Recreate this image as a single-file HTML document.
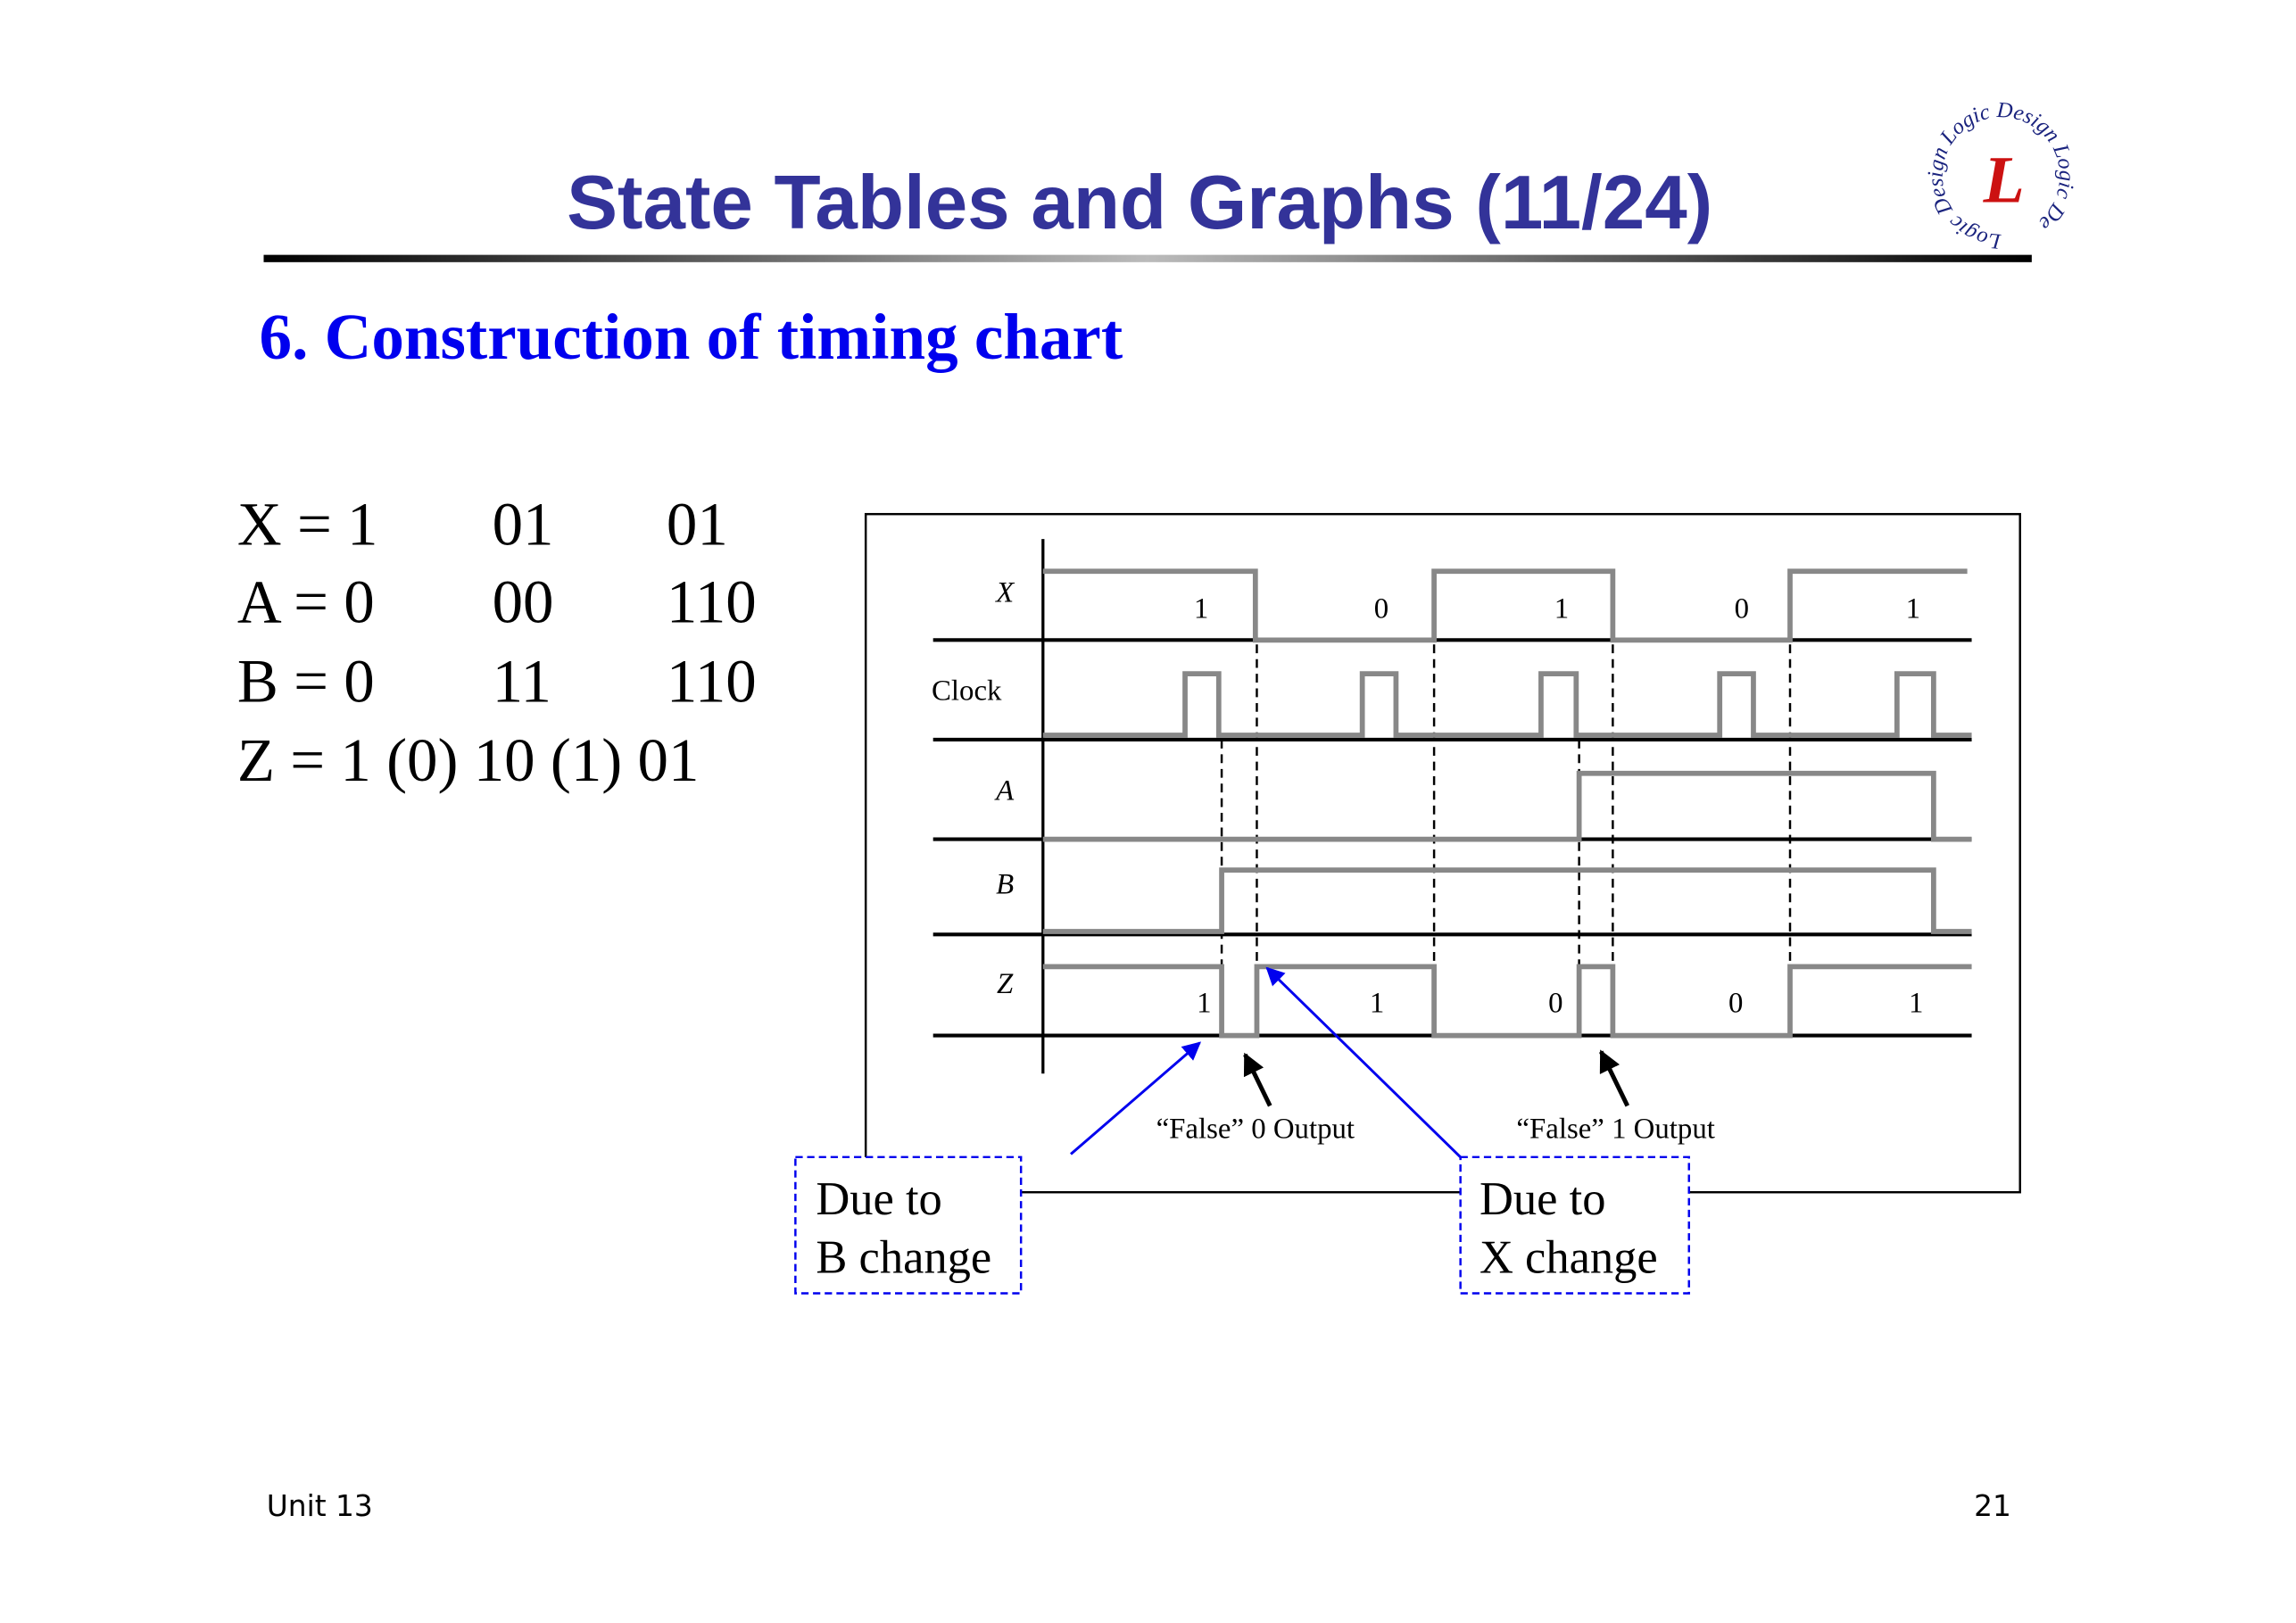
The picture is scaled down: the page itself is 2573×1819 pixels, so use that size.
<!DOCTYPE html>
<html><head><meta charset="utf-8"><style>
html,body{margin:0;padding:0;background:#fff}
svg{display:block}
</style></head><body>
<svg width="2573" height="1819" viewBox="0 0 1567.4 1108.1" preserveAspectRatio="none" xmlns="http://www.w3.org/2000/svg">
<defs>
<linearGradient id="rule" x1="0" x2="1" y1="0" y2="0">
<stop offset="0" stop-color="#000"/><stop offset="0.5" stop-color="#bbb"/><stop offset="1" stop-color="#000"/>
</linearGradient>
<marker id="ab" viewBox="0 0 10 10" refX="9" refY="5" markerWidth="7" markerHeight="7" orient="auto"><path d="M0,0L10,5L0,10z" fill="#0000ee"/></marker>
<marker id="ak" viewBox="0 0 10 10" refX="9" refY="5" markerWidth="5" markerHeight="5" orient="auto"><path d="M0,0L10,5L0,10z" fill="#000"/></marker>
<path id="circ" d="M1366,160 a40,40 0 1,1 0.1,0"/>
</defs>
<rect width="1570" height="1110" fill="#fff"/>
<text x="778" y="156" text-anchor="middle" font-family="Liberation Sans, sans-serif" font-weight="bold" font-size="52" fill="#333399">State Tables and Graphs (11/24)</text>
<rect x="180" y="174" width="1207" height="5" fill="url(#rule)"/>
<!-- logo -->
<text font-family="Liberation Serif, serif" font-style="italic" font-size="15" fill="#1a237e"><textPath href="#circ">Logic Design Logic Design Logic De</textPath></text>
<text x="1368" y="138" text-anchor="middle" font-family="Liberation Serif, serif" font-style="italic" font-weight="bold" font-size="46" fill="#cc1111">L</text>
<text x="177" y="245" font-family="Liberation Serif, serif" font-weight="bold" font-size="44.5" fill="#0000ee">6. Construction of timing chart</text>
<g font-family="Liberation Serif, serif" font-size="42" fill="#000">
<text x="162" y="372">X = 1</text><text x="336" y="372">01</text><text x="455" y="372">01</text>
<text x="162" y="425">A = 0</text><text x="336" y="425">00</text><text x="455" y="425">110</text>
<text x="162" y="479">B = 0</text><text x="336" y="479">11</text><text x="455" y="479">110</text>
<text x="162" y="533">Z = 1 (0) 10 (1) 01</text>
</g>
<rect x="591" y="351" width="788" height="463" fill="none" stroke="#000" stroke-width="1.5"/>
<line x1="712" y1="368" x2="712" y2="733" stroke="#000" stroke-width="2"/>
<g stroke="#000" stroke-width="2.5">
<line x1="637" y1="437" x2="1346" y2="437"/><line x1="637" y1="505" x2="1346" y2="505"/>
<line x1="637" y1="573" x2="1346" y2="573"/><line x1="637" y1="638" x2="1346" y2="638"/>
<line x1="637" y1="707" x2="1346" y2="707"/>
</g>
<g stroke="#000" stroke-width="1.5" stroke-dasharray="6,4">
<line x1="834" y1="505" x2="834" y2="707"/><line x1="858" y1="440" x2="858" y2="707"/>
<line x1="979" y1="440" x2="979" y2="707"/><line x1="1078" y1="505" x2="1078" y2="707"/>
<line x1="1101" y1="440" x2="1101" y2="707"/><line x1="1222" y1="440" x2="1222" y2="660"/>
</g>
<g fill="none" stroke="#888" stroke-width="3.5">
<path d="M712,390H857V437H979V390H1101V437H1222V390H1343"/>
<path d="M712,502H809V460H832V502H930V460H953V502H1052V460H1076V502H1174V460H1197V502H1295V460H1320V502H1346"/>
<path d="M712,573H1078V528H1320V573H1346"/>
<path d="M712,636H834V594H1320V636H1346"/>
<path d="M712,660H834V707H858V660H979V707H1078V660H1101V707H1222V660H1346"/>
</g>
<g font-family="Liberation Serif, serif" font-size="20" fill="#000">
<text x="686" y="411" text-anchor="middle" font-style="italic">X</text>
<text x="636" y="478">Clock</text>
<text x="686" y="546" text-anchor="middle" font-style="italic">A</text>
<text x="686" y="610" text-anchor="middle" font-style="italic">B</text>
<text x="686" y="678" text-anchor="middle" font-style="italic">Z</text>
<g text-anchor="middle">
<text x="820" y="422">1</text><text x="943" y="422">0</text><text x="1066" y="422">1</text><text x="1189" y="422">0</text><text x="1306" y="422">1</text>
<text x="822" y="691">1</text><text x="940" y="691">1</text><text x="1062" y="691">0</text><text x="1185" y="691">0</text><text x="1308" y="691">1</text>
<text x="857" y="777">“False” 0 Output</text><text x="1103" y="777">“False” 1 Output</text>
</g>
</g>
<line x1="731" y1="788" x2="819" y2="712" stroke="#0000ee" stroke-width="1.8" marker-end="url(#ab)"/>
<line x1="997" y1="790" x2="865" y2="661" stroke="#0000ee" stroke-width="1.8" marker-end="url(#ab)"/>
<line x1="867" y1="755" x2="850" y2="720" stroke="#000" stroke-width="3" marker-end="url(#ak)"/>
<line x1="1111" y1="755" x2="1093" y2="718" stroke="#000" stroke-width="3" marker-end="url(#ak)"/>
<g fill="#fff" stroke="#0000ee" stroke-width="1.5" stroke-dasharray="5,3">
<rect x="543" y="790" width="154" height="93"/><rect x="997" y="790" width="156" height="93"/>
</g>
<g font-family="Liberation Serif, serif" font-size="32" fill="#000">
<text x="557" y="829">Due to</text><text x="557" y="869">B change</text>
<text x="1010" y="829">Due to</text><text x="1010" y="869">X change</text>
</g>
<text x="182" y="1035" font-family="DejaVu Sans, sans-serif" font-size="20" fill="#000">Unit 13</text>
<text x="1373" y="1035" text-anchor="end" font-family="DejaVu Sans, sans-serif" font-size="20" fill="#000">21</text>
</svg>
</body></html>
